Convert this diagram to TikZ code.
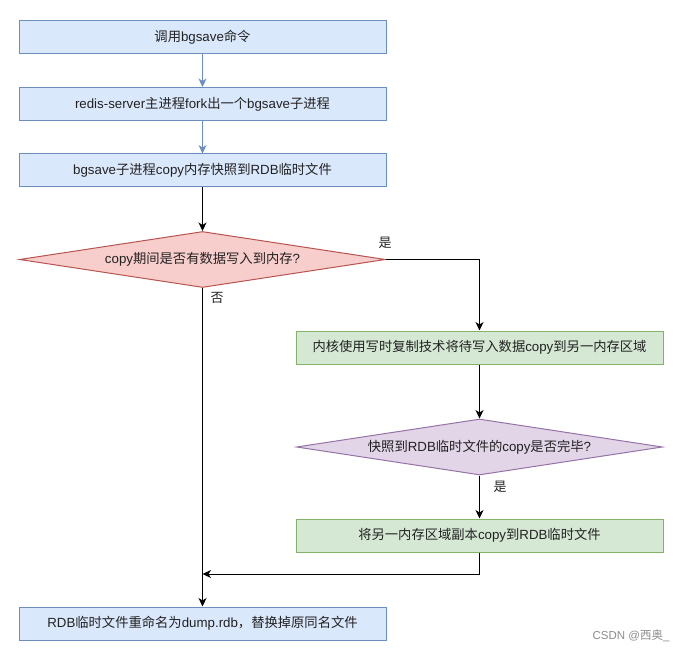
\documentclass[tikz,border=0pt]{standalone}
\usepackage{fontspec}
\setmainfont{Liberation Sans}
\newfontfamily\cjkfont{Noto Sans CJK SC}
\usetikzlibrary{shapes.geometric,arrows.meta}

\newcommand{\zh}[1]{{\cjkfont #1}}

\definecolor{bluefill}{HTML}{DAE8FC}
\definecolor{blueline}{HTML}{6C8EBF}
\definecolor{redfill}{HTML}{F8CECC}
\definecolor{redline}{HTML}{B85450}
\definecolor{greenfill}{HTML}{D5E8D4}
\definecolor{greenline}{HTML}{82B366}
\definecolor{purplefill}{HTML}{E1D5E7}
\definecolor{purpleline}{HTML}{9673A6}
\definecolor{ink}{HTML}{222222}

\tikzset{
  box/.style={rectangle, draw, line width=1pt, minimum width=367pt,
    minimum height=33pt, inner sep=0pt, text=ink, font=\fontsize{13.3}{16}\selectfont},
  bluebox/.style={box, draw=blueline, fill=bluefill},
  greenbox/.style={box, draw=greenline, fill=greenfill},
  choice/.style={diamond, draw, line width=1pt, aspect=6.5, minimum width=366pt,
    minimum height=56pt, inner sep=0pt, text=ink, font=\fontsize{13.3}{16}\selectfont},
  flow/.style={-{Stealth[length=8.5pt,width=8pt,inset=2.5pt]}, line width=1pt},
  answer/.style={inner sep=0pt, text=ink, font=\fontsize{13}{15}\selectfont}
}

\begin{document}
\begin{tikzpicture}[x=1pt,y=-1pt]
    \useasboundingbox (0,0) rectangle (687,652);
    \node[bluebox] (call) at (202.5,37.5) {\zh{调用}bgsave\zh{命令}};
    \node[bluebox] (fork) at (202.5,104) {redis-server\zh{主进程}fork\zh{出一个}bgsave\zh{子进程}};
    \node[bluebox] (snap) at (202.5,170.5) {bgsave\zh{子进程}copy\zh{内存快照到}RDB\zh{临时文件}};
    \node[choice, draw=redline, fill=redfill] (askwrite) at (202.5,259.5) {copy\zh{期间是否有数据写入到内存}?};
    \node[greenbox] (cow) at (479.5,347.5) {\zh{内核使用写时复制技术将待写入数据}copy\zh{到另一内存区域}};
    \node[choice, draw=purpleline, fill=purplefill] (askdone) at (479.5,447) {\zh{快照到}RDB\zh{临时文件的}copy\zh{是否完毕}?};
    \node[greenbox] (copyback) at (479.5,535.5) {\zh{将另一内存区域副本}copy\zh{到}RDB\zh{临时文件}};
    \node[bluebox] (rename) at (202.5,623.5) {RDB\zh{临时文件重命名为}dump.rdb\zh{，替换掉原同名文件}};
    \coordinate (merge) at (202.5,574);
    % answers
    \node[answer] (yes1) at (385,243) {\zh{是}};
    \node[answer] (no1) at (217,298) {\zh{否}};
    \node[answer] (yes2) at (500,487) {\zh{是}};
    % arrows
    \draw[flow, blueline] (call) -- (fork);
    \draw[flow, blueline] (fork) -- (snap);
    \draw[flow] (snap) -- (askwrite);
    \draw[flow] (askwrite.east) -| (cow.north);
    \draw[flow] (askwrite.south) -- (rename.north);
    \draw[flow] (cow) -- (askdone);
    \draw[flow] (askdone) -- (copyback);
    \draw[flow] (copyback.south) |- (merge);
    \node[text=black!45, inner sep=0pt, font=\fontsize{11.5}{13}\selectfont] (mark) at (631,636) {CSDN @\zh{西奥}\_};
  \end{tikzpicture}
\end{document}
